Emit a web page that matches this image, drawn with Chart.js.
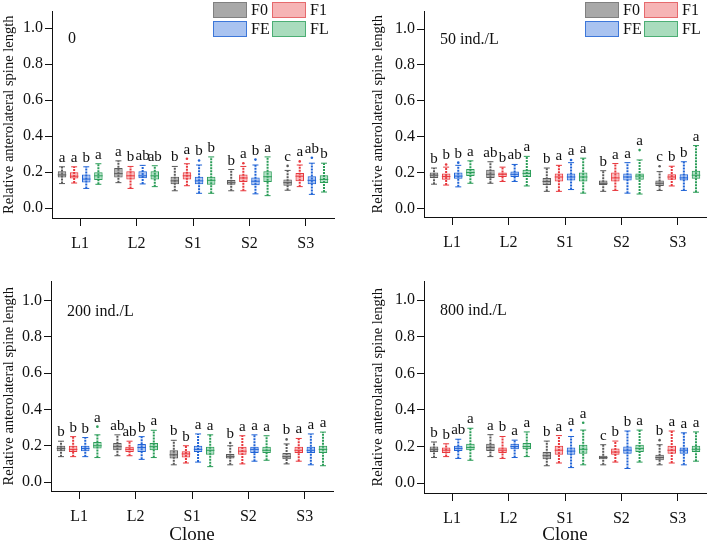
<!DOCTYPE html>
<html>
<head>
<meta charset="utf-8">
<script src="https://cdn.jsdelivr.net/npm/chart.js@4.4.1/dist/chart.umd.min.js"></script>
<style>
  html, body { margin: 0; padding: 0; background: #fff; }
  #wrap { position: relative; width: 709px; height: 544px; }
  #wrap canvas { position: absolute; }
</style>
</head>
<body>
<div id="wrap">
  <canvas id="p0" width="354" height="270" style="left:0;top:0"></canvas>
  <canvas id="p1" width="355" height="270" style="left:354px;top:0"></canvas>
  <canvas id="p2" width="354" height="274" style="left:0;top:270px"></canvas>
  <canvas id="p3" width="355" height="274" style="left:354px;top:270px"></canvas>
</div>
<script>
// ---- data ----
const clones = ['L1', 'L2', 'S1', 'S2', 'S3'];
const groups = ['F0', 'F1', 'FE', 'FL'];
const panelNames = ['0', '50 ind./L', '200 ind./L', '800 ind./L'];
const yTicks = [0, 0.2, 0.4, 0.6, 0.8, 1.0];

// [min, q1, median, q3, max] per clone, one row per group (F0, F1, FE, FL)
const stats0 = [
  [[.137,.170,.185,.205,.230],[.142,.170,.192,.223,.263],[.097,.133,.152,.175,.232],[.097,.130,.142,.157,.215],[.100,.125,.142,.160,.210]],
  [[.140,.165,.178,.200,.230],[.110,.160,.180,.205,.232],[.125,.160,.180,.200,.247],[.097,.146,.168,.187,.232],[.120,.150,.178,.196,.240]],
  [[.110,.143,.162,.187,.230],[.135,.166,.180,.205,.238],[.083,.133,.152,.175,.240],[.080,.128,.150,.170,.240],[.077,.133,.155,.178,.250]],
  [[.133,.157,.180,.200,.247],[.120,.160,.180,.205,.236],[.083,.130,.155,.175,.285],[.070,.146,.175,.205,.285],[.090,.140,.160,.183,.250]],
];
const stats1 = [
  [[.135,.170,.185,.200,.225],[.140,.170,.190,.215,.260],[.095,.130,.150,.170,.225],[.095,.130,.140,.155,.210],[.100,.125,.140,.155,.205]],
  [[.130,.160,.178,.195,.230],[.150,.175,.190,.200,.230],[.095,.150,.175,.195,.240],[.100,.150,.170,.200,.250],[.125,.160,.175,.190,.235]],
  [[.120,.165,.180,.200,.240],[.150,.175,.190,.205,.245],[.105,.155,.175,.195,.255],[.085,.155,.175,.195,.255],[.100,.155,.170,.190,.260]],
  [[.140,.180,.200,.220,.265],[.125,.175,.195,.215,.290],[.085,.150,.175,.200,.280],[.080,.160,.180,.195,.270],[.090,.165,.185,.210,.350]],
];
const stats2 = [
  [[.140,.170,.185,.200,.225],[.145,.175,.195,.215,.260],[.095,.130,.150,.175,.230],[.095,.130,.140,.155,.200],[.100,.125,.140,.160,.210]],
  [[.140,.165,.180,.200,.250],[.145,.165,.180,.195,.225],[.105,.135,.155,.170,.200],[.100,.150,.170,.195,.255],[.115,.160,.175,.195,.240]],
  [[.140,.170,.185,.200,.245],[.125,.165,.190,.210,.250],[.110,.165,.180,.200,.265],[.115,.160,.180,.195,.260],[.095,.160,.175,.195,.265]],
  [[.135,.185,.200,.220,.260],[.135,.175,.195,.215,.285],[.085,.150,.175,.195,.260],[.120,.160,.175,.195,.255],[.090,.160,.180,.200,.275]],
];
const stats3 = [
  [[.140,.170,.185,.200,.225],[.145,.175,.195,.215,.265],[.095,.130,.150,.170,.230],[.100,.130,.140,.150,.210],[.100,.125,.140,.155,.210]],
  [[.145,.165,.180,.195,.215],[.135,.165,.180,.195,.255],[.110,.155,.180,.205,.260],[.115,.155,.170,.190,.230],[.110,.160,.180,.205,.285]],
  [[.135,.175,.190,.205,.240],[.140,.185,.200,.215,.235],[.085,.155,.175,.195,.255],[.080,.160,.180,.200,.285],[.100,.160,.180,.195,.275]],
  [[.125,.180,.195,.215,.300],[.145,.185,.200,.220,.280],[.100,.160,.185,.210,.290],[.115,.170,.190,.210,.290],[.120,.170,.185,.205,.280]],
];

// single outlying points: [clone index, group index, value]
const outliers0 = [[2,1,.275],[2,2,.265],[3,1,.250],[3,2,.270],[4,0,.235],[4,1,.260],[4,2,.280]];
const outliers1 = [[0,1,.245],[0,2,.255],[2,2,.270],[3,3,.325],[4,0,.235]];
const outliers2 = [[0,3,.305],[3,0,.215],[4,0,.235]];
const outliers3 = [[2,2,.290],[2,3,.330],[4,0,.235]];

// significance letters, per clone (F0, F1, FE, FL)
const letters0 = [['a','a','b','a'],['a','b','ab','ab'],['b','a','b','b'],['b','a','b','a'],['c','a','ab','b']];
const letters1 = [['b','b','b','a'],['ab','b','ab','a'],['b','a','a','a'],['b','a','a','a'],['c','b','b','a']];
const letters2 = [['b','b','b','a'],['ab','ab','b','a'],['b','b','a','a'],['b','a','a','a'],['b','a','a','a']];
const letters3 = [['b','b','ab','a'],['a','b','a','a'],['b','a','a','a'],['c','b','b','a'],['b','a','a','a']];

// ---- styling ----
const SERIF = "'Liberation Serif', 'Times New Roman', serif";
const INK = '#111';
const LINE = ['#5a5a5a', '#e8383d', '#1f63d6', '#2b9d58'];
const FILL = ['rgba(120,120,120,0.55)', 'rgba(240,90,95,0.38)', 'rgba(60,120,225,0.40)', 'rgba(60,175,110,0.38)'];
const LEG_FILL = ['#a8a8a8', '#f6b4b5', '#a9c3f0', '#a9dcbd'];
const LEG_LINE = ['#808080', '#e66a6d', '#3d77d9', '#4cae74'];

const panels = [
  { id: 'p0', stats: stats0, out: outliers0, letters: letters0, area: [52, 334, 5, 218], y: [-0.054, 1.091], legend: true, clone: false, titlePad: 0 },
  { id: 'p1', stats: stats1, out: outliers1, letters: letters1, area: [70, 352, 4, 217], y: [-0.048, 1.097], legend: true, clone: false, titlePad: 15 },
  { id: 'p2', stats: stats2, out: outliers2, letters: letters2, area: [51, 333, 8, 221], y: [-0.049, 1.103], legend: false, clone: true, titlePad: 0 },
  { id: 'p3', stats: stats3, out: outliers3, letters: letters3, area: [70, 352, 8, 223], y: [-0.054, 1.102], legend: false, clone: true, titlePad: 15 },
];

const boxPlugin = {
  id: 'boxes',
  beforeDatasetsDraw(chart) {
    // whiskers under the boxes
    const p = chart.options.plugins.boxes;
    const y = chart.scales.y;
    const ctx = chart.ctx;
    ctx.save();
    chart.data.datasets.forEach((ds, gi) => {
      chart.getDatasetMeta(gi).data.forEach((el, ci) => {
        const s = p.stats[gi][ci];
        const yMin = y.getPixelForValue(s[0]);
        const yMax = y.getPixelForValue(s[4]);
        ctx.strokeStyle = LINE[gi];
        ctx.lineWidth = 2;
        ctx.setLineDash([2, 1]);
        ctx.beginPath();
        ctx.moveTo(el.x, yMin);
        ctx.lineTo(el.x, yMax);
        ctx.stroke();
        ctx.setLineDash([]);
        ctx.lineWidth = 1;
        ctx.beginPath();
        ctx.moveTo(el.x - 3, yMin); ctx.lineTo(el.x + 3, yMin);
        ctx.moveTo(el.x - 3, yMax); ctx.lineTo(el.x + 3, yMax);
        ctx.stroke();
      });
    });
    ctx.restore();
  },
  afterDatasetsDraw(chart) {
    const p = chart.options.plugins.boxes;
    const y = chart.scales.y;
    const ctx = chart.ctx;
    const area = chart.chartArea;
    ctx.save();
    chart.data.datasets.forEach((ds, gi) => {
      chart.getDatasetMeta(gi).data.forEach((el, ci) => {
        const s = p.stats[gi][ci];
        const hw = el.width / 2;
        // median
        const yMed = y.getPixelForValue(s[2]);
        ctx.strokeStyle = LINE[gi];
        ctx.lineWidth = 1;
        ctx.beginPath();
        ctx.moveTo(el.x - hw, yMed);
        ctx.lineTo(el.x + hw, yMed);
        ctx.stroke();
        // outliers + letter
        let top = s[4];
        p.out.forEach(o => {
          if (o[0] === ci && o[1] === gi) {
            ctx.fillStyle = LINE[gi];
            ctx.beginPath();
            ctx.arc(el.x, y.getPixelForValue(o[2]), 1.3, 0, Math.PI * 2);
            ctx.fill();
            top = Math.max(top, o[2]);
          }
        });
        ctx.fillStyle = INK;
        ctx.font = `15px ${SERIF}`;
        ctx.textAlign = 'center';
        ctx.textBaseline = 'alphabetic';
        ctx.fillText(p.letters[ci][gi], el.x, y.getPixelForValue(top) - 5);
      });
    });
    // panel label
    ctx.fillStyle = INK;
    ctx.font = `16px ${SERIF}`;
    ctx.textAlign = 'left';
    ctx.textBaseline = 'middle';
    ctx.fillText(p.name, area.left + 16, y.getPixelForValue(1.0) + 11);
    // legend (2 x 2)
    if (p.legend) {
      groups.forEach((g, i) => {
        const bx = area.left + 161 + (i % 2) * 59;
        const by = 2 + Math.floor(i / 2) * 19;
        ctx.fillStyle = LEG_FILL[i];
        ctx.strokeStyle = LEG_LINE[i];
        ctx.lineWidth = 1;
        ctx.fillRect(bx, by, 34, 16);
        ctx.strokeRect(bx + 0.5, by + 0.5, 33, 15);
        ctx.fillStyle = INK;
        ctx.font = `16px ${SERIF}`;
        ctx.textAlign = 'left';
        ctx.textBaseline = 'middle';
        ctx.fillText(g, bx + 38, by + 9);
      });
    }
    ctx.restore();
  },
};

panels.forEach((pn, k) => {
  const canvas = document.getElementById(pn.id);
  const [aL, aR, aT, aB] = pn.area;
  new Chart(canvas, {
    type: 'bar',
    data: {
      labels: clones,
      datasets: groups.map((g, gi) => ({
        label: g,
        data: pn.stats[gi].map(s => [s[1], s[3]]),
        backgroundColor: FILL[gi],
        borderColor: LINE[gi],
        borderWidth: 1,
        borderSkipped: false,
      })),
    },
    options: {
      responsive: false,
      animation: false,
      categoryPercentage: 0.86,
      barPercentage: 0.7,
      layout: { padding: { left: 0, top: aT, right: canvas.width - aR, bottom: 0 } },
      plugins: {
        legend: { display: false },
        tooltip: { enabled: false },
        boxes: { stats: pn.stats, out: pn.out, letters: pn.letters, name: panelNames[k], legend: pn.legend },
      },
      scales: {
        x: {
          offset: true,
          grid: { display: true, drawOnChartArea: false, offset: false, tickLength: 8, tickColor: INK },
          border: { display: true, color: INK, width: 1 },
          ticks: { color: INK, font: { family: SERIF, size: 16 }, padding: 8, maxRotation: 0 },
          title: {
            display: pn.clone, text: 'Clone', color: INK,
            font: { family: SERIF, size: 19, lineHeight: 0.9 }, padding: { top: 0, bottom: 0 },
          },
          afterFit: s => { s.height = canvas.height - aB; },
        },
        y: {
          min: pn.y[0],
          max: pn.y[1],
          grid: { display: true, drawOnChartArea: false, tickLength: 7, tickColor: INK },
          border: { display: true, color: INK, width: 1 },
          ticks: { color: INK, font: { family: SERIF, size: 16 }, padding: 2, callback: v => v.toFixed(1) },
          afterBuildTicks: s => { s.ticks = yTicks.map(v => ({ value: v })); },
          title: {
            display: true, text: 'Relative anterolateral spine length', color: INK,
            font: { family: SERIF, size: 14.5, lineHeight: 1.2 }, padding: { top: pn.titlePad, bottom: 0 },
          },
          afterFit: s => { s.width = aL; },
        },
      },
    },
    plugins: [boxPlugin],
  });
});
</script>
</body>
</html>
